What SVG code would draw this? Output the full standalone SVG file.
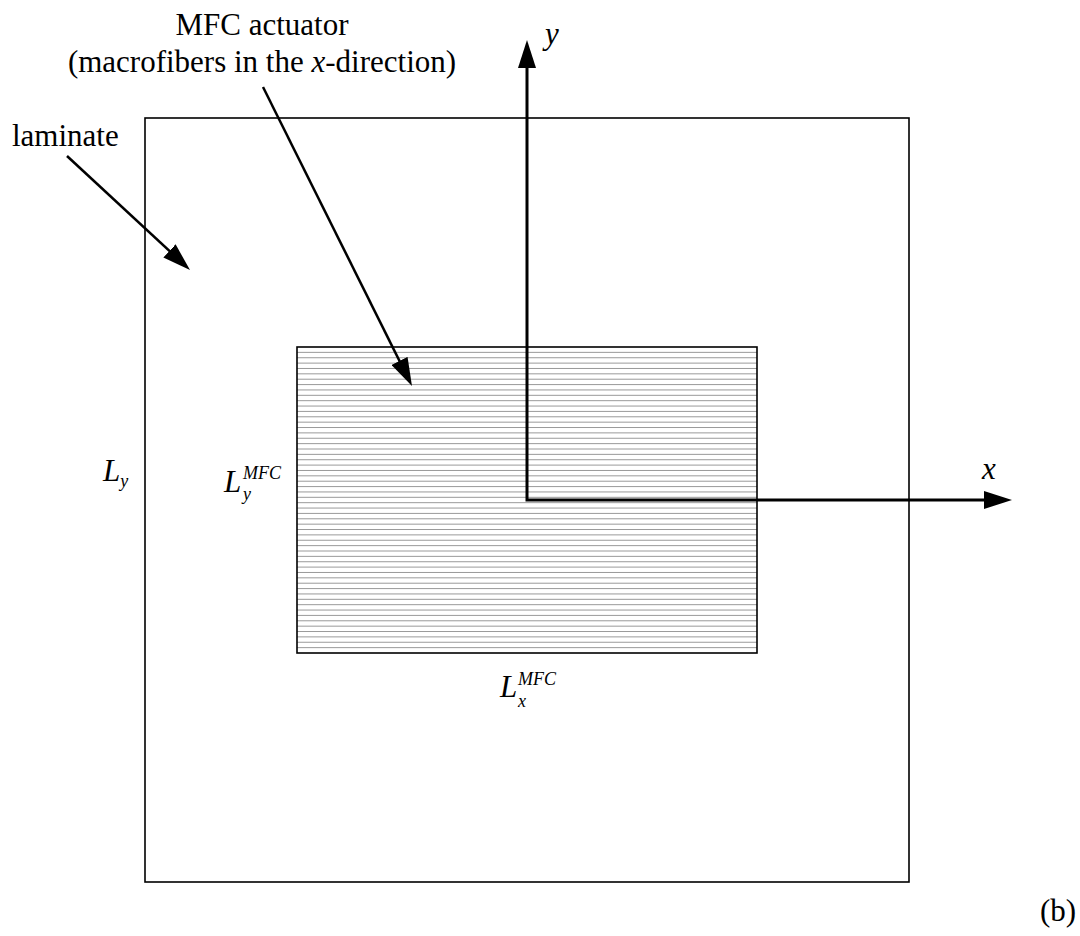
<svg xmlns="http://www.w3.org/2000/svg" width="1080" height="936" viewBox="0 0 1080 936">
<style>
.t{font-size:31px;fill:#000}
.i{font-style:italic}
.s{font-size:18px}
.box{fill:none;stroke:#000;stroke-width:1.6}
.hatch{fill:none;stroke:#9a9a9a;stroke-width:1}
.ax{fill:none;stroke:#000;stroke-width:3}
.ld{fill:none;stroke:#000;stroke-width:2.5}
</style>
<defs>
<marker id="ah" markerUnits="userSpaceOnUse" markerWidth="28" markerHeight="18" refX="22" refY="9" orient="auto-start-reverse">
<path d="M0,0 L28,9 L0,18 z" fill="#000"/>
</marker>
</defs>
<rect width="1080" height="936" fill="#fff"/>
<g id="laminate">
<rect class="box" x="145" y="118" width="764" height="764"/>
</g>
<g id="mfc">
<path class="hatch" d="M297,352.37H757M297,357.74H757M297,363.11H757M297,368.47H757M297,373.84H757M297,379.21H757M297,384.58H757M297,389.95H757M297,395.32H757M297,400.68H757M297,406.05H757M297,411.42H757M297,416.79H757M297,422.16H757M297,427.53H757M297,432.89H757M297,438.26H757M297,443.63H757M297,449H757M297,454.37H757M297,459.74H757M297,465.1H757M297,470.47H757M297,475.84H757M297,481.21H757M297,486.58H757M297,491.95H757M297,497.32H757M297,502.68H757M297,508.05H757M297,513.42H757M297,518.79H757M297,524.16H757M297,529.53H757M297,534.89H757M297,540.26H757M297,545.63H757M297,551H757M297,556.37H757M297,561.74H757M297,567.1H757M297,572.47H757M297,577.84H757M297,583.21H757M297,588.58H757M297,593.95H757M297,599.32H757M297,604.68H757M297,610.05H757M297,615.42H757M297,620.79H757M297,626.16H757M297,631.53H757M297,636.89H757M297,642.26H757M297,647.63H757"/>
<rect class="box" x="297" y="347" width="460" height="306"/>
</g>
<g id="connectors">
<path class="ax" d="M527,46 V500 H1006" marker-start="url(#ah)" marker-end="url(#ah)"/>
<path class="ld" d="M67,156 L185.6,265.9" marker-end="url(#ah)"/>
<path class="ld" d="M263,87 L409.3,380.6" marker-end="url(#ah)"/>
</g>
<g id="labels" font-family="Liberation Serif, Times New Roman, DejaVu Serif, serif">
<text class="t" x="262" y="35" text-anchor="middle">MFC actuator</text>
<text class="t" x="262" y="72" text-anchor="middle">(macrofibers in the <tspan class="i">x</tspan>-direction)</text>
<text class="t" x="12" y="146">laminate</text>
<text class="t i" x="545" y="44">y</text>
<text class="t i" x="982" y="479">x</text>
<text class="t i" x="103" y="481">L<tspan class="s" dy="6">y</tspan></text>
<text class="t i" x="224" y="492">L</text>
<text class="t i s" x="243" y="479">MFC</text>
<text class="t i s" x="243" y="500">y</text>
<text class="t i" x="500" y="697">L</text>
<text class="t i s" x="518" y="685">MFC</text>
<text class="t i s" x="518" y="707">x</text>
<text class="t" x="1040" y="921">(b)</text>
</g>
</svg>
